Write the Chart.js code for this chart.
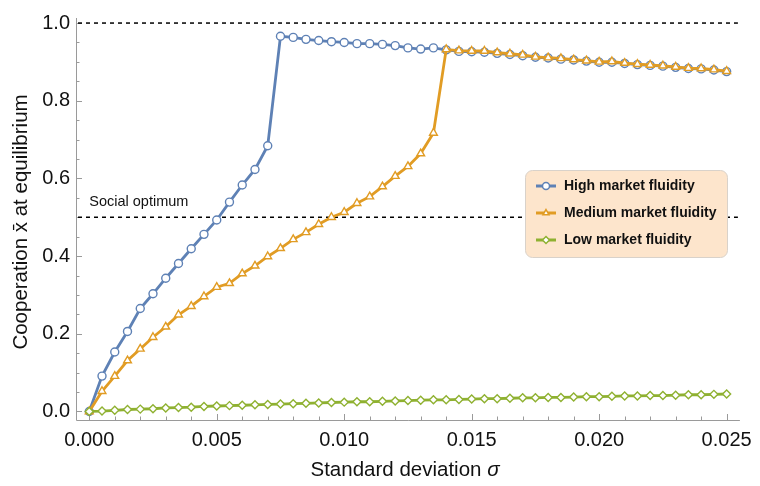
<!DOCTYPE html>
<html>
<head>
<meta charset="utf-8">
<script src="https://cdn.jsdelivr.net/npm/chart.js@4"></script>
<style>
  html, body { margin: 0; padding: 0; background: #fff; }
  #wrap { width: 760px; height: 486px; }
</style>
</head>
<body>
<div id="wrap"><canvas id="myChart" width="760" height="486"></canvas></div>
<script>
// Datos
const sigma = [0, 0.0005, 0.001, 0.0015, 0.002, 0.0025, 0.003, 0.0035, 0.004, 0.0045,
  0.005, 0.0055, 0.006, 0.0065, 0.007, 0.0075, 0.008, 0.0085, 0.009, 0.0095,
  0.010, 0.0105, 0.011, 0.0115, 0.012, 0.0125, 0.013, 0.0135, 0.014, 0.0145,
  0.015, 0.0155, 0.016, 0.0165, 0.017, 0.0175, 0.018, 0.0185, 0.019, 0.0195,
  0.020, 0.0205, 0.021, 0.0215, 0.022, 0.0225, 0.023, 0.0235, 0.024, 0.0245, 0.025];

const highFluidity = [0, 0.091, 0.153, 0.206, 0.265, 0.303, 0.343, 0.381, 0.419, 0.456,
  0.493, 0.539, 0.583, 0.623, 0.684, 0.966, 0.963, 0.958, 0.955, 0.952,
  0.950, 0.947, 0.947, 0.945, 0.942, 0.936, 0.933, 0.936, 0.931, 0.927,
  0.926, 0.925, 0.922, 0.919, 0.916, 0.912, 0.910, 0.907, 0.905, 0.902,
  0.899, 0.899, 0.896, 0.893, 0.891, 0.889, 0.886, 0.883, 0.882, 0.879, 0.875];

const mediumFluidity = [0, 0.052, 0.091, 0.131, 0.161, 0.191, 0.218, 0.249, 0.271, 0.296,
  0.320, 0.330, 0.355, 0.375, 0.399, 0.420, 0.443, 0.461, 0.482, 0.500,
  0.513, 0.536, 0.553, 0.579, 0.606, 0.631, 0.664, 0.717, 0.932, 0.929,
  0.928, 0.928, 0.924, 0.921, 0.918, 0.913, 0.911, 0.909, 0.906, 0.903,
  0.900, 0.901, 0.897, 0.894, 0.892, 0.890, 0.887, 0.884, 0.883, 0.880, 0.876];

const lowFluidity = [0, 0.001, 0.003, 0.005, 0.006, 0.007, 0.009, 0.010, 0.011, 0.013,
  0.014, 0.015, 0.016, 0.017, 0.018, 0.019, 0.020, 0.021, 0.022, 0.023,
  0.024, 0.025, 0.025, 0.026, 0.027, 0.028, 0.029, 0.030, 0.030, 0.031,
  0.032, 0.033, 0.033, 0.034, 0.035, 0.035, 0.036, 0.036, 0.037, 0.038,
  0.038, 0.039, 0.040, 0.040, 0.041, 0.041, 0.042, 0.043, 0.043, 0.044, 0.045];

const xTicks = [0, 0.005, 0.010, 0.015, 0.020, 0.025];
const yTicks = [0, 0.2, 0.4, 0.6, 0.8, 1.0];
const xMinorTicks = [];
for (let i = 0; i <= 25; i++) xMinorTicks.push(i / 1000);
const yMinorTicks = [];
for (let i = 0; i <= 20; i++) yMinorTicks.push(i / 20);

const referenceLines = [1.0, 0.5];
const optimumLabel = 'Social optimum';
const seriesNames = ['High market fluidity', 'Medium market fluidity', 'Low market fluidity'];
const xTitle = ['Standard deviation ', 'σ'];
const yTitle = 'Cooperation x\u0304 at equilibrium';

const colores = ['#5e81b5', '#e19c24', '#8fb131'];
const estilos = ['circle', 'triangle', 'rectRot'];
const FONT = '"Liberation Sans", Arial, Helvetica, sans-serif';

function puntos(ys) {
    return sigma.map((s, i) => ({ x: s, y: ys[i] }));
}

const extras = {
    id: 'extras',
    beforeDatasetsDraw(chart) {
        const ctx = chart.ctx;
        const xs = chart.scales.x, ys = chart.scales.y;
        const area = chart.chartArea;
        ctx.save();
        // ejes
        ctx.strokeStyle = '#9a9a9a';
        ctx.lineWidth = 1;
        ctx.beginPath();
        ctx.moveTo(area.left + 0.5, area.top);
        ctx.lineTo(area.left + 0.5, area.bottom + 0.5);
        ctx.lineTo(area.right, area.bottom + 0.5);
        ctx.stroke();
        ctx.beginPath();
        xMinorTicks.forEach(v => {
            const px = Math.round(xs.getPixelForValue(v)) + 0.5;
            const major = xTicks.some(t => Math.abs(t - v) < 1e-9);
            ctx.moveTo(px, area.bottom);
            ctx.lineTo(px, area.bottom - (major ? 6 : 3.5));
        });
        yMinorTicks.forEach(v => {
            const py = Math.round(ys.getPixelForValue(v)) + 0.5;
            const major = yTicks.some(t => Math.abs(t - v) < 1e-9);
            ctx.moveTo(area.left, py);
            ctx.lineTo(area.left + (major ? 6 : 3.5), py);
        });
        ctx.stroke();
        // lineas de referencia
        ctx.strokeStyle = '#000';
        ctx.lineWidth = 1.5;
        ctx.setLineDash([4, 4]);
        referenceLines.forEach(v => {
            const py = ys.getPixelForValue(v);
            ctx.beginPath();
            ctx.moveTo(area.left + 2, py);
            ctx.lineTo(area.right - 2, py);
            ctx.stroke();
        });
        ctx.setLineDash([]);
        ctx.fillStyle = '#111';
        ctx.font = '14.5px ' + FONT;
        ctx.textBaseline = 'middle';
        ctx.textAlign = 'left';
        ctx.fillText(optimumLabel, xs.getPixelForValue(0), ys.getPixelForValue(0.54));
        ctx.restore();
    },
    afterDraw(chart) {
        const ctx = chart.ctx;
        ctx.save();
        // leyenda
        const bx = 525, by = 170, bw = 202, bh = 87;
        ctx.beginPath();
        ctx.roundRect(bx + 0.5, by + 0.5, bw, bh, 7);
        ctx.fillStyle = '#fde5cc';
        ctx.fill();
        ctx.strokeStyle = '#d9d2ca';
        ctx.lineWidth = 1;
        ctx.stroke();
        seriesNames.forEach((name, i) => {
            const cy = by + 16 + i * 27;
            ctx.strokeStyle = colores[i];
            ctx.lineWidth = 3;
            ctx.beginPath();
            ctx.moveTo(bx + 11, cy);
            ctx.lineTo(bx + 31, cy);
            ctx.stroke();
            ctx.fillStyle = '#fff';
            ctx.lineWidth = 1.5;
            Chart.helpers.drawPoint(ctx, {
                pointStyle: estilos[i], radius: 3.5, borderWidth: 1.5, rotation: 0
            }, bx + 21, cy);
            ctx.fillStyle = '#111';
            ctx.font = 'bold 14px ' + FONT;
            ctx.textBaseline = 'middle';
            ctx.textAlign = 'left';
            ctx.fillText(name, bx + 39, cy + 0.5);
        });
        // titulo del eje x
        ctx.fillStyle = '#111';
        ctx.textBaseline = 'middle';
        ctx.textAlign = 'left';
        ctx.font = '20.5px ' + FONT;
        const w1 = ctx.measureText(xTitle[0]).width;
        ctx.font = 'italic 20.5px ' + FONT;
        const w2 = ctx.measureText(xTitle[1]).width;
        const x0 = 405 - (w1 + w2) / 2;
        ctx.font = '20.5px ' + FONT;
        ctx.fillText(xTitle[0], x0, 470);
        ctx.font = 'italic 20.5px ' + FONT;
        ctx.fillText(xTitle[1], x0 + w1, 470);
        // titulo del eje y
        ctx.translate(21, 222);
        ctx.rotate(-Math.PI / 2);
        ctx.textAlign = 'center';
        ctx.font = '20.5px ' + FONT;
        ctx.fillText(yTitle, 0, 0);
        ctx.restore();
    }
};

function crearGrafica() {
    const ctx = document.getElementById('myChart').getContext('2d');
    const series = [highFluidity, mediumFluidity, lowFluidity];
    const orden = [3, 2, 1];
    new Chart(ctx, {
        type: 'line',
        data: {
            datasets: series.map((s, i) => ({
                label: seriesNames[i],
                data: puntos(s),
                borderColor: colores[i],
                borderWidth: 2.8,
                backgroundColor: '#fff',
                pointStyle: estilos[i],
                pointRadius: i === 1 ? 4.5 : 4,
                pointBorderWidth: 1.4,
                pointBackgroundColor: '#fff',
                pointBorderColor: colores[i],
                tension: 0,
                order: orden[i]
            }))
        },
        options: {
            responsive: false,
            animation: false,
            layout: { padding: { top: 8, right: 17, left: 0, bottom: 0 } },
            plugins: {
                legend: { display: false },
                tooltip: { enabled: false }
            },
            scales: {
                x: {
                    type: 'linear',
                    min: -0.00052,
                    max: 0.02552,
                    grid: { display: false, drawTicks: false },
                    border: { display: false },
                    afterBuildTicks: scale => { scale.ticks = xTicks.map(v => ({ value: v })); },
                    afterFit: scale => { scale.height = 66; },
                    ticks: {
                        padding: 8,
                        color: '#111',
                        font: { family: FONT, size: 20 },
                        callback: v => v.toFixed(3)
                    }
                },
                y: {
                    min: -0.022,
                    max: 1.013,
                    grid: { display: false, drawTicks: false },
                    border: { display: false },
                    afterBuildTicks: scale => { scale.ticks = yTicks.map(v => ({ value: v })); },
                    afterFit: scale => { scale.width = 76; },
                    ticks: {
                        padding: 6,
                        color: '#111',
                        font: { family: FONT, size: 20 },
                        callback: v => v.toFixed(1)
                    }
                }
            }
        },
        plugins: [extras]
    });
}

crearGrafica();
</script>
</body>
</html>
